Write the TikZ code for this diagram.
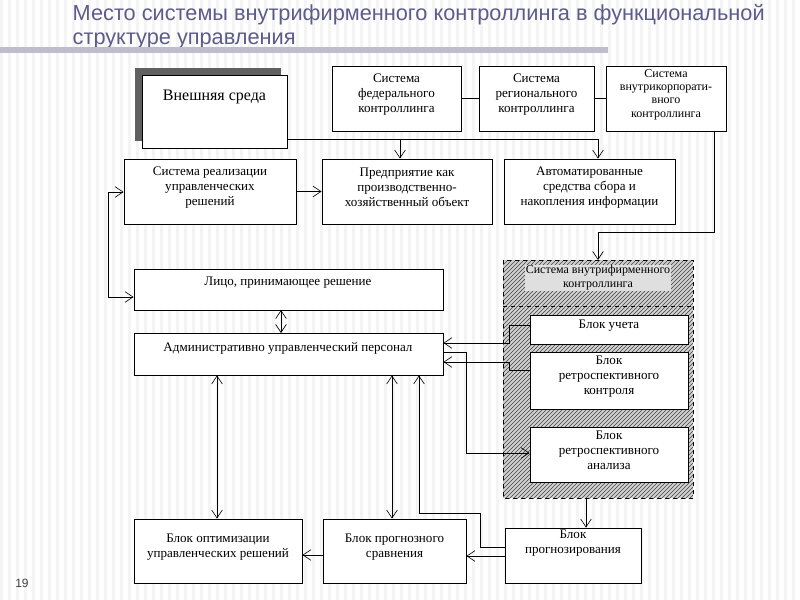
\documentclass[tikz,border=0pt]{standalone}
\usepackage{fontspec}
\setmainfont{Liberation Serif}
\newfontfamily\titlefont{Liberation Sans}
\usetikzlibrary{arrows.meta,fit,patterns}
\begin{document}
\begin{tikzpicture}[x=0.75pt,y=-0.75pt,
  box/.style={draw=black,fill=white,line width=0.6pt,inner sep=0pt,align=center,font=\fontsize{9.8}{11.3}\selectfont},
  txt/.style={align=center,inner sep=0pt,font=\fontsize{9.8}{11.3}\selectfont},
  conn/.style={line width=0.5pt},
  arr/.style={conn,-{Straight Barb[length=6pt,width=8pt]}},
  darr/.style={conn,{Straight Barb[length=6pt,width=8pt]}-{Straight Barb[length=6pt,width=8pt]}}]
\useasboundingbox (0,0) rectangle (800,600);
\fill[white] (0,0) rectangle (800,600);
\foreach \i in {0,8,...,800} \fill[gray!9] (\i,0) rectangle (\i+3,600);
% title
\node[anchor=north west,align=left,text=blue!20!gray!90!black,font=\titlefont\fontsize{16.3}{18}\selectfont] (title) at (68,0) {Место системы внутрифирменного контроллинга в функциональной\\структуре управления};
\fill[blue!15!gray!45] (0,47) rectangle (608,53);
\node[font=\titlefont\fontsize{9}{10}\selectfont,text=black!75] (pg) at (22,583) {19};
% external environment
\fill[gray!75!black] (135,68) rectangle (281,141);
\node[box,fit={(142,75)(287,148)}] (ext) {\raisebox{8pt}{\fontsize{12}{14}\selectfont Внешняя среда}};
\node[box,fit={(332,66)(461,131)}] (fed) {Система\\федерального\\контроллинга};
\node[box,fit={(479,66)(594,131)}] (reg) {Система\\регионального\\контроллинга};
\node[box,fit={(606,66)(726,131)},font=\fontsize{9}{10}\selectfont] (corp) {Система\\внутрикорпорати-\\вного\\контроллинга};
\draw[conn] (fed) -- (reg);
\draw[conn] (reg) -- (corp);
\node[box,fit={(124,159)(296,224)}] (real) {Система реализации\\управленческих\\решений};
\node[box,fit={(322,159)(492,224)}] (ent) {Предприятие как\\производственно-\\хозяйственный объект};
\node[box,fit={(504,159)(675,224)}] (auto) {Автоматированные\\средства сбора и\\накопления информации};
\coordinate (j1) at (400,139);
\coordinate (j2) at (598,139);
\draw[conn] (ext.east|-j1) -- (j2);
\draw[arr] (j1) -- (j1|-ent.north);
\draw[arr] (j2) -- (j2|-auto.north);
\draw[arr] (real) -- (ent);
% hatched system
\fill[gray!35] (503,260) rectangle (693,498);
\fill[pattern=north east lines,pattern color=black!75] (503,260) rectangle (693,498);
\draw[dashed,line width=0.5pt] (503,260) rectangle (693,498);
\draw[dashed,line width=0.5pt] (503,306) -- (693,306);
\node[txt,fill=gray!25,inner sep=0.5pt,font=\fontsize{9}{10.5}\selectfont] (sys) at (598,278) {Система внутрифирменного\\контроллинга};
\coordinate (s1) at (714,232);
\coordinate (s2) at (598,232);
\coordinate (stop) at (598,260);
\draw[arr] (corp.south-|s1) -- (s1) -- (s2) -- (stop);
\node[box,fit={(134,269)(443,310)}] (lpr) {};
\node[txt] (lprt) at (288,283) {Лицо, принимающее решение};
\node[box,fit={(134,333)(443,375)}] (aup) {};
\node[txt] (aupt) at (288,348) {Административно управленческий персонал};
\draw[darr] (281,310) -- (281,333);
\coordinate (l1) at (108,192);
\coordinate (l2) at (108,297);
\draw[darr] (real.west|-l1) -- (l1) -- (l2) -- (l2-|lpr.west);
\node[box,fit={(530,315)(688,344)}] (uch) {Блок учета};
\node[box,fit={(530,352)(688,409)}] (rk) {Блок\\ретроспективного\\контроля};
\node[box,fit={(530,427)(688,482)}] (ra) {Блок\\ретроспективного\\анализа};
\coordinate (u1) at (509,343);
\coordinate (u2) at (509,325);
\draw[arr] (uch.west|-u2) -- (u2) -- (u1) -- (u1-|aup.east);
\coordinate (r1) at (509,362);
\coordinate (r2) at (509,370);
\draw[arr] (rk.west|-r2) -- (r2) -- (r1) -- (r1-|aup.east);
\coordinate (a1) at (466,352);
\coordinate (a2) at (466,453);
\draw[arr] (aup.east|-a1) -- (a1) -- (a2) -- (a2-|ra.west);
% bottom row
\node[box,fit={(134,519)(302,583)}] (opt) {Блок оптимизации\\управленческих решений};
\node[box,fit={(323,519)(466,583)}] (cmp) {Блок прогнозного\\сравнения};
\node[box,fit={(505,528)(641,583)}] (prog) {\raisebox{5pt}{\begin{tabular}{@{}c@{}}Блок\\прогнозирования\end{tabular}}};
\coordinate (d1) at (586,498);
\draw[arr] (d1) -- (d1|-prog.north);
\coordinate (c1) at (0,555);
\draw[arr] (cmp.west|-c1) -- (c1-|opt.east);
\coordinate (c2) at (0,556);
\draw[arr] (prog.west|-c2) -- (c2-|cmp.east);
\coordinate (p1) at (480,547);
\coordinate (p2) at (480,513);
\coordinate (p3) at (419,513);
\draw[arr] (prog.west|-p1) -- (p1) -- (p2) -- (p3) -- (p3|-aup.south);
\coordinate (v1) at (217,0);
\draw[darr] (v1|-aup.south) -- (v1|-opt.north);
\coordinate (v2) at (392,0);
\draw[darr] (v2|-aup.south) -- (v2|-cmp.north);
\end{tikzpicture}
\end{document}
